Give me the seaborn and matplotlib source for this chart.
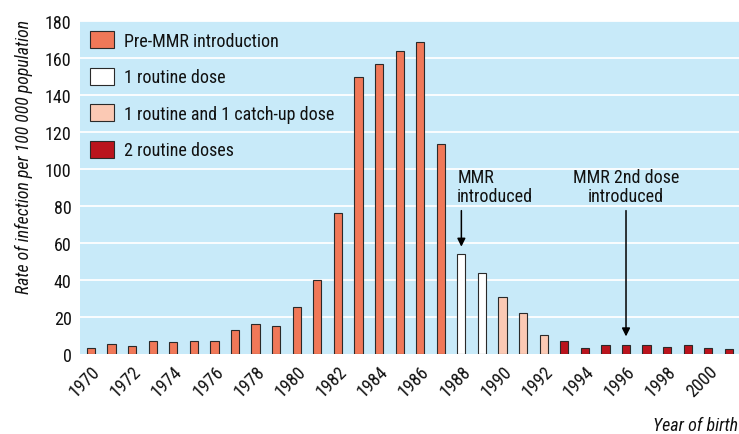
import matplotlib
matplotlib.use("Agg")
import matplotlib.pyplot as plt
from matplotlib.patches import Patch
import seaborn as sns
import pandas as pd

years = list(range(1970, 2002))
rates = [3.1, 5.2, 4.3, 6.8, 6.3, 6.8, 6.8, 12.8, 16.0, 15.0, 25.4, 40.0,
         76.0, 149.5, 157.0, 164.0, 168.5, 113.5,
         54.0, 43.6, 30.6, 22.0, 10.5,
         6.8, 3.1, 4.7, 4.7, 4.7, 4.0, 4.7, 3.2, 2.9]
# 1970-1987 pre-MMR, 1988-89 one dose, 1990-92 catch-up, 1993-2001 two doses
groups = (["Pre-MMR introduction"] * 18 + ["1 routine dose"] * 2 +
          ["1 routine and 1 catch-up dose"] * 3 + ["2 routine doses"] * 9)
categories = ["Pre-MMR introduction", "1 routine dose",
              "1 routine and 1 catch-up dose", "2 routine doses"]
colors = ["#F07858", "#FFFFFF", "#FBC9B4", "#BA141D"]
yticks = list(range(0, 181, 20))

df = pd.DataFrame({"year": [str(y) for y in years], "rate": rates, "group": groups})

sns.set_theme(style="white")
plt.rcParams["font.family"] = ["Roboto Condensed", "Barlow Semi Condensed", "DejaVu Sans"]
plt.rcParams["text.color"] = "#111111"
plt.rcParams["axes.labelcolor"] = "#111111"
plt.rcParams["xtick.color"] = "#111111"
plt.rcParams["ytick.color"] = "#111111"

fig = plt.figure(figsize=(7.39, 4.35), dpi=100)
ax = fig.add_axes([80 / 739, 80 / 435, 659 / 739, 333 / 435])
ax.set_facecolor("#C8EAF9")

palette = dict(zip(categories, colors))
sns.barplot(data=df, x="year", y="rate", hue="group", hue_order=categories,
            palette=palette, dodge=False, width=0.4, edgecolor="#2a2a2a",
            linewidth=0.8, saturation=1, ax=ax, legend=False, zorder=3)

ax.set_ylim(0, 180)
ax.set_xlim(-0.53, 31.49)
ax.set_yticks(yticks)
ax.set_yticklabels([str(v) for v in yticks], fontsize=13)
for v in yticks[1:]:
    ax.axhline(v, color="white", lw=1.3, zorder=1)
ax.set_xticks(range(0, 32, 2))
ax.set_xticklabels([str(y) for y in years[::2]], rotation=45, ha="right",
                   rotation_mode="anchor", fontsize=13)
ax.tick_params(axis="both", length=0, pad=6)
for s in ax.spines.values():
    s.set_visible(False)

ax.set_xlabel("")
ax.set_ylabel("Rate of infection per 100 000 population", fontsize=12.8,
              style="italic")
ax.yaxis.set_label_coords(-0.071, 0.595)
fig.text(738 / 739, 1 - 426 / 435, "Year of birth", ha="right", va="center",
         fontsize=13, style="italic")

handles = [Patch(facecolor=c, edgecolor="#2a2a2a", linewidth=0.8) for c in colors]
ax.legend(handles, categories, loc="upper left",
          bbox_to_anchor=(10 / 659, 1 - 10 / 333), frameon=False, fontsize=13,
          handlelength=1.35, handleheight=1.1, handletextpad=0.55,
          labelspacing=0.98, borderpad=0, borderaxespad=0)

ax.annotate("", xy=(18, 58), xytext=(18, 77.5),
            arrowprops=dict(arrowstyle="-|>", color="black", lw=1.1,
                            mutation_scale=12, shrinkA=0, shrinkB=0), zorder=5)
ax.text(17.8, 90.5, "MMR\nintroduced", ha="left", va="center", fontsize=13,
        linespacing=1.1)
ax.annotate("", xy=(26, 9.5), xytext=(26, 77.5),
            arrowprops=dict(arrowstyle="-|>", color="black", lw=1.1,
                            mutation_scale=12, shrinkA=0, shrinkB=0), zorder=5)
ax.text(26, 90.5, "MMR 2nd dose\nintroduced", ha="center", va="center",
        fontsize=13, linespacing=1.1)

fig.savefig("out.png", dpi=100)
